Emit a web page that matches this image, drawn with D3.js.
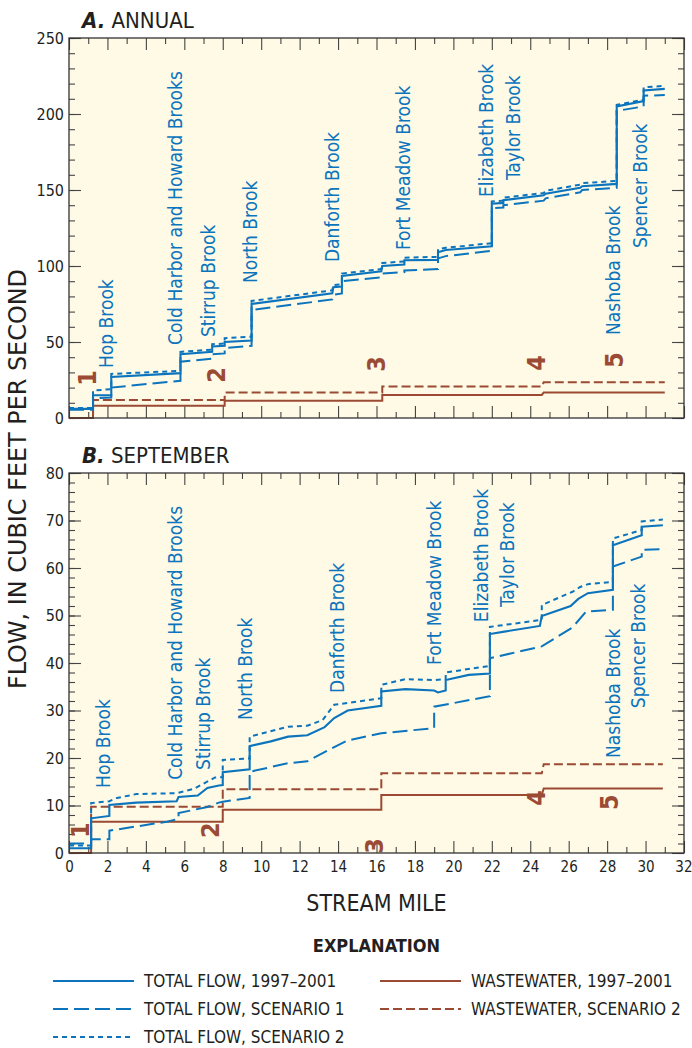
<!DOCTYPE html>
<html>
<head>
<meta charset="utf-8">
<script src="https://cdn.jsdelivr.net/npm/d3@7"></script>
<style>
  body { margin: 0; background: #fff; }
  svg text { font-family: "Liberation Sans Narrow", "DejaVu Sans Condensed", "Roboto Condensed", "Liberation Sans", sans-serif; font-stretch: condensed; }
</style>
</head>
<body>
<svg id="chart" width="692" height="1048"></svg>
<script>
// stream mile vs flow, step lines

// ---- A. ANNUAL ----
const annualTotal = [[0,6],[1.25,6],[1.25,15],[2.2,15],[2.2,27],[5.8,29.5],[5.8,42],[7.45,43.5],[7.45,47],[8.1,47.5],[8.1,50],[9.5,51],[9.5,75],[13.7,82],[13.75,86],[14.2,86.5],[14.2,93.5],[16.25,96.5],[16.3,100],[17.45,101],[17.45,103.8],[19.2,104],[19.2,109],[19.6,110.5],[22,113],[22,141],[22.6,141.5],[22.6,143.3],[24.7,146.5],[24.8,147.5],[26.6,151.5],[26.7,152.5],[28.5,154],[28.5,205],[29.9,208.5],[29.9,215.5],[31,216.5]];
const annualScen1 = [[0,5.5],[1.25,5.5],[1.25,13],[2.2,13.5],[2.2,20],[5.8,24.5],[5.8,37],[7.45,39],[7.45,42],[8.1,42.5],[8.1,46],[9.5,47.5],[9.5,71],[13.7,78],[13.75,81],[14.2,82],[14.2,90],[16.25,92.5],[16.3,95],[17.45,96],[17.45,97],[19.2,98],[19.2,105],[19.6,106.5],[22,110],[22,138],[22.6,138.5],[22.6,140],[24.7,143],[24.8,144.5],[26.6,148.5],[26.7,150],[28.5,151.5],[28.5,202],[29.9,205],[29.9,212],[31,212.5]];
const annualScen2 = [[0,6.5],[1.25,6.5],[1.25,18],[2.2,19],[2.2,29],[5.8,31],[5.8,43.5],[7.45,45],[7.45,48.5],[8.1,49],[8.1,52.5],[9.5,53.5],[9.5,77],[13.7,84],[13.75,87.5],[14.2,88],[14.2,95],[16.25,98],[16.3,102],[17.45,103],[17.45,105.5],[19.2,106],[19.2,111],[19.6,112],[22,115],[22,142.5],[22.6,143],[22.6,145],[24.7,148],[24.8,149.5],[26.6,153.5],[26.7,154.5],[28.5,156],[28.5,206],[29.9,209.5],[29.9,217.5],[31,218.5]];
const annualWaste = [[0,0],[1.25,0],[1.25,8],[8.1,8],[8.1,11.4],[16.3,11.4],[16.3,15.2],[24.6,15.2],[24.7,16.7],[31,16.7]];
const annualWaste2 = [[0,0],[1.25,0],[1.25,11.9],[8.1,11.9],[8.1,16.7],[16.3,16.7],[16.3,20.7],[24.6,20.7],[24.7,23.5],[31,23.5]];

// ---- B. SEPTEMBER ----
const septTotal = [[0,1],[1.15,1],[1.15,7.3],[2.1,7.8],[2.1,10.1],[3.5,10.6],[5.6,10.9],[5.7,11.8],[6.7,12.1],[7.2,13.7],[7.8,14.2],[8,14.3],[8,17],[9.4,17.6],[9.4,22.5],[10.5,23.5],[11.4,24.5],[12.4,24.8],[13.3,26.5],[13.8,28.4],[14.5,30],[16.25,31],[16.25,34],[17.5,34.5],[19,34.2],[19.2,33.8],[19.6,34.2],[19.6,36.4],[20.8,37.5],[21.9,37.8],[21.9,46.1],[22.65,46.6],[24.5,47.8],[24.6,49.9],[26.1,52],[26.5,53.5],[27,54.7],[28.3,55.4],[28.3,64.8],[29.8,66.9],[29.8,68.7],[30.9,69]];
const septScen1 = [[0,2],[1.15,2],[1.15,2.9],[2.1,2.9],[2.1,4.7],[5.1,6.6],[5.7,7.2],[5.7,8.4],[7.2,9.7],[7.8,10.6],[8,10.8],[9.4,11.6],[9.4,17.1],[11.4,18.9],[12.4,19.3],[13.8,22.3],[14.5,23.7],[16.25,25.2],[19,26.3],[19,30.8],[21.9,33],[21.9,41],[24.6,43.5],[26.2,47.5],[26.9,50.8],[28.3,51.2],[28.3,60.3],[29.8,62.4],[29.8,63.8],[30.9,64]];
const septScen2 = [[0,1.6],[1.15,1.6],[1.15,10.5],[2.1,10.9],[2.5,11.6],[3.5,12.4],[5.6,12.6],[6.5,13.5],[7,14.6],[7.6,15.9],[8,16],[8,19.6],[9.4,19.9],[9.4,24.5],[11.4,26.6],[12.4,26.8],[13.2,28],[13.8,31.2],[16.25,32.6],[16.25,35.4],[17.5,36.6],[19,36.4],[19.6,36.6],[19.6,38],[21.9,39.4],[21.9,47.6],[24.6,49.1],[24.6,52.2],[26.2,55],[26.6,56],[27,56.6],[28.3,57.1],[28.3,66.2],[29.8,68],[29.8,69.8],[30.9,70.2]];
const septWaste = [[0,0],[1.15,0],[1.15,6.6],[8,6.6],[8,9.1],[16.25,9.1],[16.25,12.2],[24.6,12.2],[24.7,13.6],[30.9,13.6]];
const septWaste2 = [[0,0],[1.15,0],[1.15,9.75],[8,9.75],[8,13.4],[16.25,13.4],[16.25,16.8],[24.6,16.8],[24.7,18.7],[30.9,18.7]];

// tributary labels: name, mile, value at bottom of text
const brookNames = ["Hop Brook","Cold Harbor and Howard Brooks","Stirrup Brook","North Brook","Danforth Brook","Fort Meadow Brook","Elizabeth Brook","Taylor Brook","Nashoba Brook","Spencer Brook"];
const brookMileA = [1.93,5.52,7.23,9.42,13.68,17.38,21.7,23.1,28.3,29.7];
const brookBaseA = [32.9,48,53.3,88.8,102.6,110.5,145.4,156.6,54.6,111.8];
const brookMileB = [1.77,5.52,6.97,9.16,13.94,18.99,21.44,22.79,28.3,29.6];
const brookBaseB = [13.7,15.4,17.5,28,33.7,39.6,48.6,51.8,20,30.5];

// wastewater discharge markers 1-5
const markerLabels = ["1","2","3","4","5"];
const markerMileA = [0.94,7.7,16.0,24.3,28.36];
const markerValA = [26.3,28.3,35.5,36.2,38.2];
const markerMileB = [0.62,7.34,15.9,24.35,28.1];
const markerValB = [4.8,4.8,1.5,11.6,10.7];

const xTicks = d3.range(0, 33, 2);

const BLUE = "#0b74bd";
const BROWN = "#9b4a33";
const INK = "#231f20";
const PAPER = "#fefae6";

const styles = {
  total: { color: BLUE, dash: null, width: 2.1 },
  scen1: { color: BLUE, dash: "15,6", width: 2 },
  scen2: { color: BLUE, dash: "5,4", width: 2 },
  waste: { color: BROWN, dash: null, width: 2 },
  waste2: { color: BROWN, dash: "9,4", width: 2 }
};

const svg = d3.select("#chart");
const left = 69, right = 684;
const x = d3.scaleLinear().domain([0, 32]).range([left, right]);

function drawPanel(cfg) {
  const y = d3.scaleLinear().domain([0, cfg.ymax]).range([cfg.bottom, cfg.top]);
  const g = svg.append("g");

  g.append("rect")
    .attr("x", left).attr("y", cfg.top)
    .attr("width", right - left).attr("height", cfg.bottom - cfg.top)
    .attr("fill", PAPER);

  // inward ticks on all four sides
  const tickSets = [
    [d3.axisBottom(x).tickValues(xTicks).tickSize(-12), cfg.bottom, "x"],
    [d3.axisBottom(x).tickValues(d3.range(1, 32, 2)).tickSize(-6), cfg.bottom, "x"],
    [d3.axisTop(x).tickValues(xTicks).tickSize(-12), cfg.top, "x"],
    [d3.axisTop(x).tickValues(d3.range(1, 32, 2)).tickSize(-6), cfg.top, "x"],
    [d3.axisLeft(y).tickValues(d3.range(0, cfg.ymax + 1, cfg.major)).tickSize(-12), left, "y"],
    [d3.axisLeft(y).tickValues(d3.range(0, cfg.ymax + 1, cfg.minor)).tickSize(-6), left, "y"],
    [d3.axisRight(y).tickValues(d3.range(0, cfg.ymax + 1, cfg.major)).tickSize(-12), right, "y"],
    [d3.axisRight(y).tickValues(d3.range(0, cfg.ymax + 1, cfg.minor)).tickSize(-6), right, "y"]
  ];
  tickSets.forEach(([ax, pos, dir]) => {
    const a = g.append("g")
      .attr("transform", dir === "x" ? `translate(0,${pos})` : `translate(${pos},0)`)
      .call(ax.tickFormat(""));
    a.select(".domain").remove();
    a.selectAll("line").attr("stroke", "#444").attr("stroke-width", 1.1);
  });

  // y tick labels
  const yl = g.append("g").attr("transform", `translate(${left},0)`)
    .call(d3.axisLeft(y).tickValues(d3.range(0, cfg.ymax + 1, cfg.major)).tickSize(0).tickPadding(5));
  yl.select(".domain").remove();
  yl.selectAll("text").attr("font-size", 16).attr("fill", INK);

  if (cfg.xLabels) {
    const xl = g.append("g").attr("transform", `translate(0,${cfg.bottom})`)
      .call(d3.axisBottom(x).tickValues(xTicks).tickSize(0).tickPadding(8));
    xl.select(".domain").remove();
    xl.selectAll("text").attr("font-size", 15).attr("fill", INK);
    // keep the last label inside the page
    xl.selectAll("text").filter(d => d === 32).attr("text-anchor", "end").attr("dx", 8);
  }

  // brook labels
  const plot = g.append("g");
  brookNames.forEach((name, i) => {
    const px = x(cfg.brookMile[i]), py = y(cfg.brookBase[i]);
    plot.append("text")
      .attr("transform", `translate(${px},${py}) rotate(-90)`)
      .attr("dominant-baseline", "central")
      .attr("font-size", 19)
      .attr("fill", BLUE)
      .text(name);
  });

  // discharge markers
  markerLabels.forEach((m, i) => {
    plot.append("text")
      .attr("transform", `translate(${x(cfg.markerMile[i])},${y(cfg.markerVal[i])}) rotate(-90)`)
      .attr("text-anchor", "middle")
      .attr("dominant-baseline", "central")
      .attr("font-size", 25)
      .attr("font-weight", "bold")
      .attr("fill", BROWN)
      .text(m);
  });

  const line = d3.line().x(d => x(d[0])).y(d => y(d[1]));
  cfg.series.forEach(([data, key]) => {
    const s = styles[key];
    plot.append("path")
      .attr("d", line(data))
      .attr("fill", "none")
      .attr("stroke", s.color)
      .attr("stroke-width", s.width)
      .attr("stroke-dasharray", s.dash)
      .attr("stroke-linejoin", "miter");
  });

  g.append("rect")
    .attr("x", left).attr("y", cfg.top)
    .attr("width", right - left).attr("height", cfg.bottom - cfg.top)
    .attr("fill", "none").attr("stroke", "#333").attr("stroke-width", 1.3);

  // panel title
  const t = g.append("text")
    .attr("x", 82).attr("y", cfg.top - 10)
    .attr("font-size", 22).attr("fill", INK);
  t.append("tspan").attr("font-weight", "bold").attr("font-style", "italic").text(cfg.letter);
  t.append("tspan").text(" " + cfg.title);
}

drawPanel({
  top: 38, bottom: 418, ymax: 250, major: 50, minor: 10,
  letter: "A.", title: "ANNUAL", xLabels: false,
  brookMile: brookMileA, brookBase: brookBaseA,
  markerMile: markerMileA, markerVal: markerValA,
  series: [[annualWaste, "waste"], [annualWaste2, "waste2"], [annualScen1, "scen1"], [annualScen2, "scen2"], [annualTotal, "total"]]
});

drawPanel({
  top: 473, bottom: 853, ymax: 80, major: 10, minor: 2,
  letter: "B.", title: "SEPTEMBER", xLabels: true,
  brookMile: brookMileB, brookBase: brookBaseB,
  markerMile: markerMileB, markerVal: markerValB,
  series: [[septWaste, "waste"], [septWaste2, "waste2"], [septScen1, "scen1"], [septScen2, "scen2"], [septTotal, "total"]]
});

// axis titles
svg.append("text")
  .attr("transform", "translate(26,479) rotate(-90)")
  .attr("text-anchor", "middle")
  .attr("font-size", 24).attr("fill", INK)
  .attr("textLength", 420).attr("lengthAdjust", "spacingAndGlyphs")
  .text("FLOW, IN CUBIC FEET PER SECOND");

svg.append("text")
  .attr("x", (left + right) / 2).attr("y", 911)
  .attr("text-anchor", "middle")
  .attr("font-size", 23).attr("fill", INK)
  .text("STREAM MILE");

// explanation
svg.append("text")
  .attr("x", (left + right) / 2).attr("y", 952)
  .attr("text-anchor", "middle")
  .attr("font-size", 18).attr("font-weight", "bold").attr("fill", INK)
  .text("EXPLANATION");

const legendItems = [
  ["TOTAL FLOW, 1997\u20132001", "total", 53, 981],
  ["TOTAL FLOW, SCENARIO 1", "scen1", 53, 1009],
  ["TOTAL FLOW, SCENARIO 2", "scen2", 53, 1037],
  ["WASTEWATER, 1997\u20132001", "waste", 380, 981],
  ["WASTEWATER, SCENARIO 2", "waste2", 380, 1009]
];
const leg = svg.append("g");
legendItems.forEach(([label, key, lx, ly]) => {
  const s = styles[key];
  leg.append("line")
    .attr("x1", lx).attr("x2", lx + 81).attr("y1", ly).attr("y2", ly)
    .attr("stroke", s.color).attr("stroke-width", s.width)
    .attr("stroke-dasharray", s.dash);
  leg.append("text")
    .attr("x", lx + 91).attr("y", ly)
    .attr("dominant-baseline", "central")
    .attr("font-size", 17).attr("fill", INK)
    .text(label);
});
</script>
</body>
</html>
